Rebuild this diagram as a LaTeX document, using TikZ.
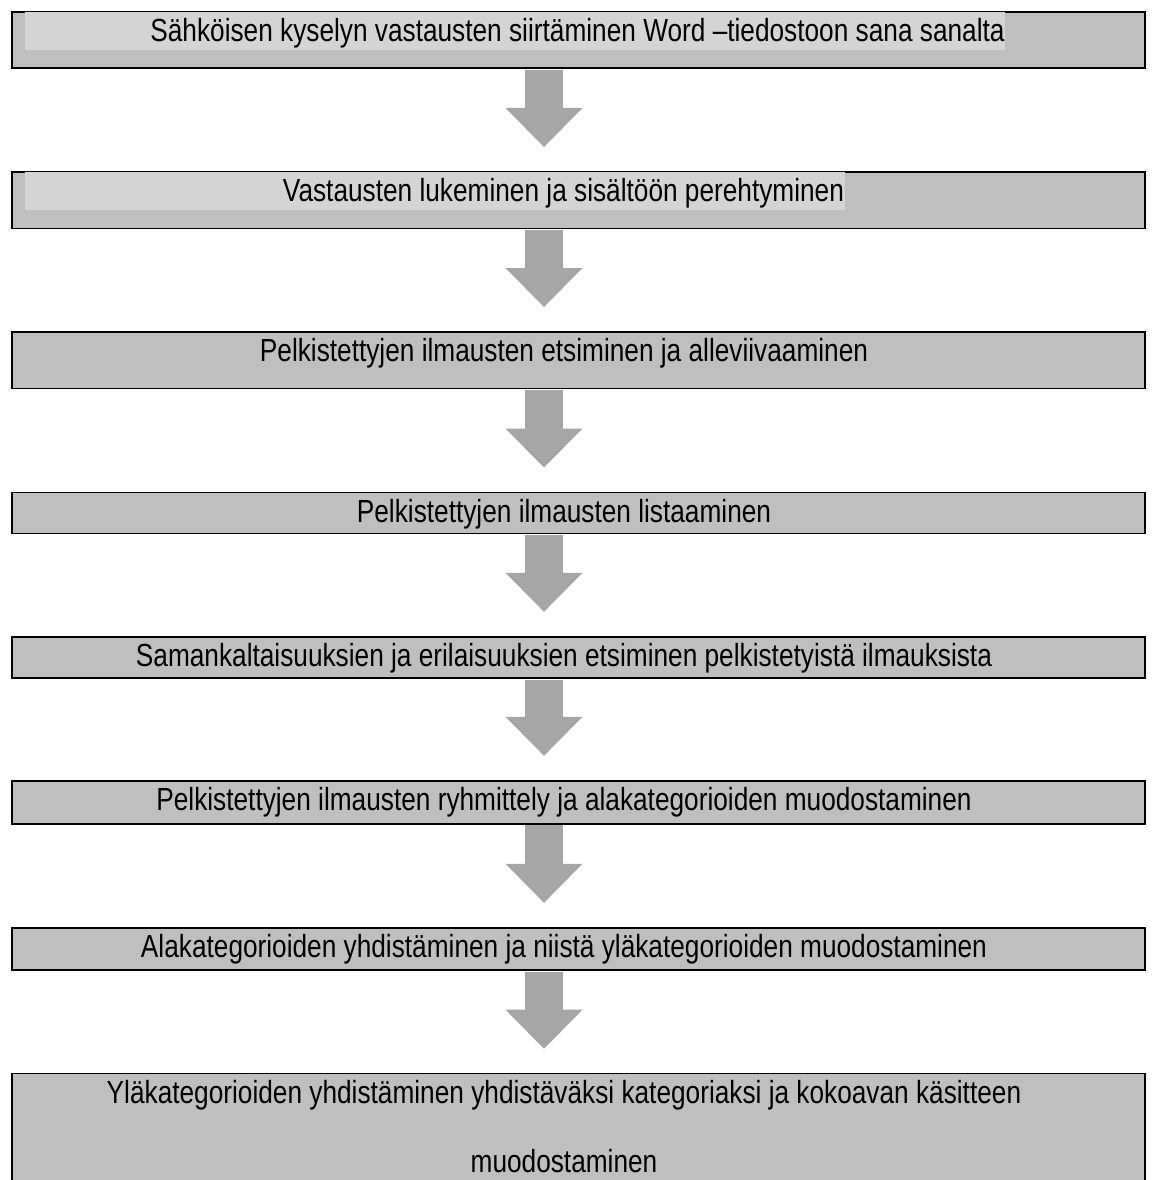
\documentclass[tikz,border=0pt]{standalone}
\usepackage{fontspec}
\setmainfont{Liberation Sans}[FakeStretch=0.82]
\usepackage{xcolor}
\usetikzlibrary{arrows.meta}

\begin{document}
\begin{tikzpicture}[
    x=1pt,
    y=-1pt,
    font=\fontsize{32}{36.8}\selectfont,
    stagebox/.style={
        rectangle,
        draw=black,
        fill=black!25,
        line width=1.7pt,
        minimum width=1133pt,
        minimum height=#1,
        inner sep=0pt,
        anchor=north west
    },
    stagetext/.style={
        anchor=base,
        inner sep=0pt,
        align=center
    },
    hilite/.style={fill=black!17},
    bigarrow/.style={
        draw=black!35,
        line width=38pt,
        -{Triangle[length=39pt,width=77pt,line width=0pt]},
        shorten <=0.9pt,
        shorten >=24pt
    }
]

\useasboundingbox (0,0) rectangle (1154,1180);
\clip (0,0) rectangle (1154,1180);

\node[stagebox=56.5pt] (b1) at (10.8,11) {};
\node[stagebox=56.5pt] (b2) at (10.8,171) {};
\node[stagebox=56.5pt] (b3) at (10.8,331) {};
\node[stagebox=41pt] (b4) at (10.8,491.5) {};
\node[stagebox=41.5pt] (b5) at (10.8,635.8) {};
\node[stagebox=43pt] (b6) at (10.8,779.8) {};
\node[stagebox=42.5pt] (b7) at (10.8,926.8) {};
\node[stagebox=200pt] (b8) at (10.8,1072.7) {};

\fill[hilite] (25,11.85) rectangle (1005,50);
\fill[hilite] (25,171.85) rectangle (845,210);

\node[stagetext] (t1) at (577.5,41.5) {Sähköisen kyselyn vastausten siirtäminen Word –tiedostoon sana sanalta};
\node[stagetext] (t2) at (563.5,201.5) {Vastausten lukeminen ja sisältöön perehtyminen};
\node[stagetext] (t3) at (564,361.5) {Pelkistettyjen ilmausten etsiminen ja alleviivaaminen};
\node[stagetext] (t4) at (564,522) {Pelkistettyjen ilmausten listaaminen};
\node[stagetext] (t5) at (564,666) {Samankaltaisuuksien ja erilaisuuksien etsiminen pelkistetyistä ilmauksista};
\node[stagetext] (t6) at (564,810) {Pelkistettyjen ilmausten ryhmittely ja alakategorioiden muodostaminen};
\node[stagetext] (t7) at (564,957) {Alakategorioiden yhdistäminen ja niistä yläkategorioiden muodostaminen};
\node[stagetext, font=\fontsize{32}{69.5}\selectfont] (t8) at (564,1172.5)
    {Yläkategorioiden yhdistäminen yhdistäväksi kategoriaksi ja kokoavan käsitteen\\muodostaminen};

\coordinate (ax) at (544,0);
\foreach \a/\b in {b1/b2,b2/b3,b3/b4,b4/b5,b5/b6,b6/b7,b7/b8}
    \draw[bigarrow] (\a.south -| ax) -- (\b.north -| ax);

\end{tikzpicture}
\end{document}
